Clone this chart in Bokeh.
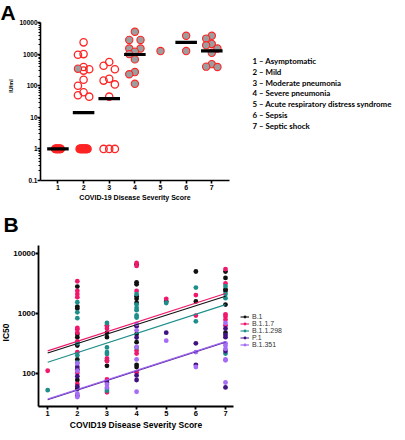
import math
import numpy as np
from bokeh.plotting import figure
from bokeh.layouts import column, row
from bokeh.models import (FixedTicker, CustomJSTickFormatter, Legend, LegendItem, Range1d)
from bokeh.core.properties import value
from bokeh.embed import file_html
from bokeh.resources import INLINE

# ---------------- Panel A data ----------------
scores = [1, 2, 3, 4, 5, 6, 7]
a_open = [
    [1] * 10,
    [2350, 1000, 950, 390, 330, 300, 155, 100, 62, 50, 45] + [1] * 14,
    [560, 430, 330, 165, 145, 110, 45, 1, 1, 1],
    [], [], [], [],
]
a_filled = [
    [],
    [345],
    [],
    [5100, 2800, 2800, 1500, 1500, 1200, 1000, 680, 270, 230, 115],
    [1250],
    [3800, 1250],
    [3800, 3100, 2100, 1900, 1500, 1100, 480, 400, 390],
]
a_median = [1, 14, 39, 970, None, 2350, 1260]
severity_labels = [
    "1 \u2013 Asymptomatic",
    "2 \u2013 Mild",
    "3 \u2013 Moderate pneumonia",
    "4 \u2013 Severe pneumonia",
    "5 \u2013 Acute respiratory distress syndrome",
    "6 \u2013 Sepsis",
    "7 \u2013 Septic shock",
]
a_yticks = [0.1, 1, 10, 100, 1000, 10000]

# ---------------- Panel B data ----------------
variants = ["B.1", "B.1.1.7", "B.1.1.298", "P.1", "B.1.351"]
b1_ic50 = [[], [2800, 1300, 1200, 450, 400, 290, 170, 115, 77, 55], [620, 475, 400, 163, 133],
           [6600, 3300, 3050, 1930, 1750, 1500, 450, 330, 138, 127], [1580], [5000, 1580],
           [5000, 3900, 2530, 2370, 1400, 475]]
b117_ic50 = [[110], [3440, 2380, 2100, 1860, 570, 540, 475, 340, 225, 102, 66], [630, 560, 176, 160, 79, 48],
             [6950, 6200, 2370, 240, 213, 104], [1750], [2020, 920], [5500, 3160, 965, 880, 780, 630]]
b11298_ic50 = [[52], [1540, 1040, 830, 316, 200, 150], [690, 270, 225, 210, 55, 51],
               [2100, 1400, 1230, 1130, 920, 850, 270], [1490], [2700, 735], [2860, 2100, 1790, 213]]
p1_ic50 = [[], [127, 89, 60, 42], [70], [610, 395, 92, 77], [475], [316, 138], [560, 435, 400, 235, 58]]
b1351_ic50 = [[], [146, 110, 46, 40], [65, 58], [665, 520, 275, 170, 49], [350], [226, 127],
              [690, 316, 290, 256, 170, 164, 70]]
b_data = [b1_ic50, b117_ic50, b11298_ic50, p1_ic50, b1351_ic50]
fit_at_1 = [217, 236, 153, 36, 37]
fit_at_7 = [1930, 2150, 1400, 330, 340]
b_yticks = [100, 1000, 10000]

b_colors = ["#111111", "#f0186c", "#1e8e8a", "#3f1280", "#a56cf5"]
b_line_colors = ["#111111", "#f0186c", "#1e8e8a", "#5a2aa0", "#9a5ef0"]

FONT = "Liberation Sans"
W = 397
W_SIDE = 160                 # width of the list / legend column
HA = 206                     # panel A row height
H_STRIP_B, HB = 32, 194      # panel B letter strip and plot row
LA_W, LA_H = 16, 40          # letter "A" box
LB_W = 10                    # "IC50" label column


# ---------- beeswarm offsets (layout only) ----------
def swarm(vals, step=0.22, px_x=26.0, px_dec=31.2, diam=7.0):
    vals = np.asarray(vals, dtype=float)
    offs = np.zeros(len(vals))
    order = np.argsort(-vals, kind="stable")
    placed = []
    uniq, counts = np.unique(vals, return_counts=True)
    tied = set()
    for u, c in zip(uniq, counts):
        if c > 1:
            idx = np.where(vals == u)[0]
            half = step if c <= 3 else 0.011 * c
            offs[idx] = np.linspace(-half, half, c)
            tied.update(idx.tolist())
    for i in order:
        if i in tied:
            continue
        best, bestd = 0.0, -1
        for k in [0, -1, 1]:
            o = k * step
            if placed:
                d = min(np.hypot((o - po) * px_x, (np.log10(vals[i]) - np.log10(pv)) * px_dec)
                        for po, pv in placed)
            else:
                d = 1e9
            if d >= diam:
                best, bestd = o, d
                break
            if d > bestd:
                best, bestd = o, d
        offs[i] = best
        placed.append((best, vals[i]))
    return offs


def style_axes(p, tick_size, label_size, lw):
    for ax in (p.xaxis[0], p.yaxis[0]):
        ax.axis_line_width = lw
        ax.axis_line_color = "black"
        ax.major_tick_line_width = lw
        ax.major_tick_out = 3
        ax.major_tick_in = 0
        ax.major_label_text_font = FONT
        ax.major_label_text_font_style = "bold"
        ax.major_label_text_font_size = tick_size
        ax.major_label_text_color = "black"
        ax.axis_label_text_font = FONT
        ax.axis_label_text_font_style = "bold"
        ax.axis_label_text_font_size = label_size
        ax.axis_label_text_color = "black"
        ax.major_label_standoff = 1
        ax.axis_label_standoff = 1
    p.yaxis.major_label_standoff = 0
    p.xaxis.minor_tick_line_color = None
    p.grid.visible = False
    p.outline_line_color = None


def text_fig(width, height):
    # pixel coordinate system: x to the right, y downwards from the figure's top
    f = figure(width=width, height=height, x_range=Range1d(0, width), y_range=Range1d(height, 0),
               output_backend="svg", toolbar_location=None, x_axis_location=None, y_axis_location=None,
               title=None, frame_align=False,
               min_border_left=0, min_border_right=0, min_border_top=0, min_border_bottom=0)
    f.outline_line_color = None
    f.grid.visible = False
    return f


def bold_text(f, x, y, txt, size, font=FONT, angle=0.0, baseline="middle", align="left", color="black"):
    f.text(x=x, y=y, text=txt, angle=angle, text_font=value(font), text_font_style="bold",
           text_font_size=size, text_baseline=baseline, text_align=align, text_color=color)


# ---------------- Panel A ----------------
pA = figure(width=W - W_SIDE - LA_W, height=HA, x_range=Range1d(0.32, 7.69), y_range=Range1d(0.1, 10000),
            y_axis_type="log", output_backend="svg", toolbar_location=None, frame_align=False,
            min_border_left=21, min_border_right=8, min_border_top=22, min_border_bottom=26)
style_axes(pA, "6.5px", "7px", 1.6)
pA.xaxis.major_label_text_font_size = "7px"
pA.xaxis.ticker = FixedTicker(ticks=scores)
minorA = [m * 10.0 ** e for e in range(-1, 4) for m in range(2, 10)]
pA.yaxis.ticker = FixedTicker(ticks=a_yticks, minor_ticks=minorA)
pA.yaxis.minor_tick_out = 2
pA.yaxis.minor_tick_in = 0
pA.yaxis.minor_tick_line_width = 1
pA.yaxis.formatter = CustomJSTickFormatter(code="return tick < 1 ? tick.toFixed(1) : tick.toFixed(0);")
pA.xaxis.axis_label = "COVID-19 Disease Severity Score"

ox, oy, fx, fy = [], [], [], []
for s, ov_, fv in zip(scores, a_open, a_filled):
    allv = list(ov_) + list(fv)
    if not allv:
        continue
    offs = swarm(allv)
    for j, v in enumerate(allv):
        if j < len(ov_):
            ox.append(s + offs[j]); oy.append(v)
        else:
            fx.append(s + offs[j]); fy.append(v)

pA.scatter(ox, oy, size=7.3, marker="circle", fill_color=None, line_color="#ff2424", line_width=1.3)
pA.scatter(fx, fy, size=7.3, marker="circle", fill_color="#9d9d9d", line_color="#ff2424", line_width=1.1)
mx0 = [s - 0.42 for s, m in zip(scores, a_median) if m is not None]
mx1 = [s + 0.42 for s, m in zip(scores, a_median) if m is not None]
my = [m for m in a_median if m is not None]
pA.segment(x0=mx0, x1=mx1, y0=my, y1=my, line_color="black", line_width=3.2)

# left column of panel A: letter + y axis title
letterA = text_fig(LA_W, LA_H)
bold_text(letterA, [0], [12], ["A"], "21px")
ylabA = text_fig(LA_W, HA - LA_H)
bold_text(ylabA, [10], [85.5 - LA_H], ["IU/ml"], "5.5px", angle=math.pi / 2, align="center")
leftA = column(letterA, ylabA)

# severity list to the right of panel A
listA = text_fig(W_SIDE, HA)
list_x, list_y0, list_dy = 15, 60.5, 10.75
bold_text(listA, [list_x] * len(severity_labels),
          [list_y0 + i * list_dy for i in range(len(severity_labels))],
          severity_labels, "7.9px", font="Lato")

# ---------------- Panel B ----------------
stripB = text_fig(W, H_STRIP_B)
bold_text(stripB, [3], [18.2], ["B"], "21px")

pB = figure(width=W - W_SIDE - LB_W, height=HB, x_range=Range1d(0.69, 7.27), y_range=Range1d(27.8, 13600),
            y_axis_type="log", output_backend="svg", toolbar_location=None, frame_align=False,
            min_border_left=25, min_border_right=4, min_border_top=7, min_border_bottom=24)
style_axes(pB, "8px", "8.5px", 1.8)
pB.xaxis.major_label_text_font_size = "7.5px"
pB.xaxis.ticker = FixedTicker(ticks=scores)
pB.yaxis.ticker = FixedTicker(ticks=b_yticks, minor_ticks=[])
pB.yaxis.minor_tick_line_color = None
pB.yaxis.formatter = CustomJSTickFormatter(code="return tick.toFixed(0);")
pB.xaxis.axis_label = "COVID19 Disease Severity Score"

for name, data, c in zip(variants, b_data, b_colors):
    xs = [s for s, vals in zip(scores, data) for v in vals]
    ys = [v for s, vals in zip(scores, data) for v in vals]
    pB.scatter(xs, ys, size=4.8, marker="circle", fill_color=c, line_color=None)
for name, lc, f1, f7 in zip(variants, b_line_colors, fit_at_1, fit_at_7):
    pB.line([scores[0], scores[-1]], [f1, f7], line_color=lc, line_width=1.1)

ylabB = text_fig(LB_W, HB)
bold_text(ylabB, [5], [332 - HA - H_STRIP_B], ["IC50"], "8.5px", angle=math.pi / 2, align="center")

# legend of panel B (own small figure; its renderers carry no visible data)
legB = text_fig(W_SIDE, HB)
legend_items = []
for name, c, lc in zip(variants, b_colors, b_line_colors):
    lr = legB.line(x=[float("nan")], y=[float("nan")], line_color=lc, line_width=1.1)
    sr = legB.scatter(x=[float("nan")], y=[float("nan")], size=4.8, marker="circle",
                      fill_color=c, line_color=None)
    legend_items.append(LegendItem(label=name, renderers=[lr, sr]))
legend = Legend(items=legend_items, location=(3, 84), padding=0, margin=0, spacing=0,
                label_height=7, glyph_height=7, glyph_width=9, label_standoff=3,
                label_text_font=FONT, label_text_font_size="7px", label_text_color="#333333",
                background_fill_alpha=0, border_line_alpha=0)
legB.add_layout(legend)

layout = column(row(leftA, pA, listA), stripB, row(ylabB, pB, legB))
open("out.html", "w").write(file_html(layout, INLINE))
